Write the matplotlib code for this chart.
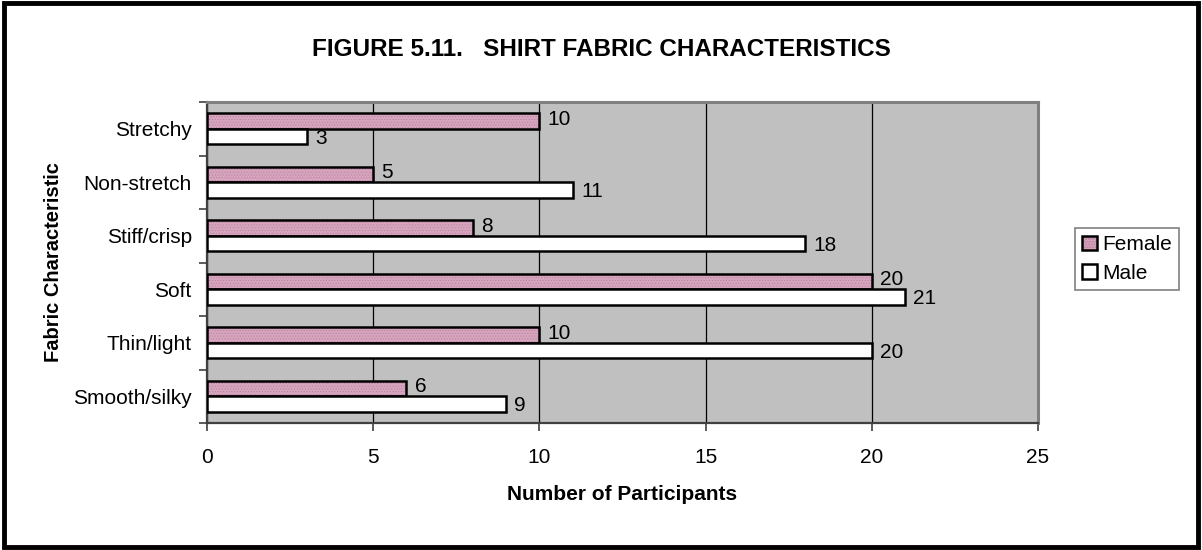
import matplotlib
matplotlib.use("Agg")
import matplotlib.pyplot as plt
import numpy as np
from matplotlib.patches import Rectangle

plt.rcParams['font.family'] = ['Liberation Sans', 'DejaVu Sans']

categories = ["Smooth/silky", "Thin/light", "Soft", "Stiff/crisp", "Non-stretch", "Stretchy"]
female = [6, 10, 20, 8, 5, 10]
male = [9, 20, 21, 18, 11, 3]
xticks = [0, 5, 10, 15, 20, 25]

fig = plt.figure(figsize=(12.02, 5.5), dpi=100)
ax = fig.add_axes([207/1202, 1-423/550, (1038-207)/1202, (423-102)/550])
ax.set_facecolor('#C0C0C0')

y = np.arange(len(categories))
h = 0.29
bf = ax.barh(y + h/2, female, height=h, color='#d6a4bc', edgecolor='black',
             linewidth=1.8, hatch='......', label='Female', zorder=3)
for b in bf:
    b.set_hatch_linewidth(0.4)
    b._hatch_color = (0.72, 0.5, 0.62, 1.0)
bm = ax.barh(y - h/2, male, height=h, color='white', edgecolor='black',
             linewidth=1.8, label='Male', zorder=3)

fs = 15
for yi, v in zip(y, female):
    ax.text(v + 0.25, yi + h/2 + 0.03, str(v), va='center', ha='left', fontsize=fs, zorder=4)
for yi, v in zip(y, male):
    ax.text(v + 0.25, yi - h/2 - 0.03, str(v), va='center', ha='left', fontsize=fs, zorder=4)

ax.set_xlim(0, 25)
ax.set_ylim(-0.5, len(categories) - 0.5)
ax.set_xticks(xticks)
ax.set_xticklabels([str(t) for t in xticks], fontsize=fs)
ax.set_yticks(y)
ax.set_yticklabels(categories, fontsize=fs)
ax.tick_params(axis='y', length=0, pad=11)
ax.set_yticks(np.arange(-0.5, len(categories), 1), minor=True)
ax.tick_params(axis='y', which='minor', length=6, width=1.2, direction='out', color='#404040')
ax.tick_params(axis='x', length=6, width=1.2, direction='out', pad=12, color='#404040')
ax.xaxis.grid(True, color='black', linewidth=0.9, zorder=1)
ax.set_axisbelow(True)

for s in ['top', 'right']:
    ax.spines[s].set_color('#808080')
    ax.spines[s].set_linewidth(2.2)
for s in ['left', 'bottom']:
    ax.spines[s].set_color('#404040')
    ax.spines[s].set_linewidth(1.6)

fig.text(601/1202, 1-50/550, "FIGURE 5.11.   SHIRT FABRIC CHARACTERISTICS",
         ha='center', va='center', fontsize=17.5, fontweight='bold')
fig.text(622/1202, 1-495/550, "Number of Participants", ha='center', va='center',
         fontsize=15, fontweight='bold')
fig.text(54/1202, 1-262/550, "Fabric Characteristic", ha='center', va='center',
         rotation=90, fontsize=14.5, fontweight='bold')

leg = fig.legend(handles=[bf, bm], labels=['Female', 'Male'],
                 loc='upper left', bbox_to_anchor=(1075/1202, 1-228/550),
                 frameon=True, fancybox=False, fontsize=fs,
                 handlelength=0.7, handleheight=0.7, handletextpad=0.25,
                 borderpad=0.35, labelspacing=0.45, borderaxespad=0)
leg.get_frame().set_edgecolor('#606060')
leg.get_frame().set_linewidth(1.2)

fig.patches.append(Rectangle((4/1202, 3/550), 1194/1202, 544/550, transform=fig.transFigure,
                             fill=False, edgecolor='black', linewidth=3.5))

fig.savefig('out.png', dpi=100)
